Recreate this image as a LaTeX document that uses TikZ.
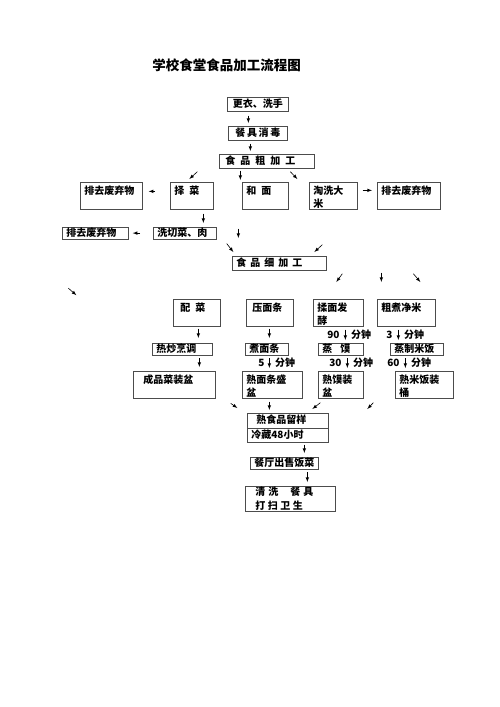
\documentclass[tikz,border=0pt]{standalone}
\usepackage{fontspec}
\setmainfont{Noto Sans CJK SC}
\usetikzlibrary{shapes.multipart}

\newcommand{\gap}[1][5pt]{\hspace{#1}}

\tikzstyle{base}=[rectangle,
                  draw=black!70,
                  line width=0.7pt,
                  anchor=north west,
                  inner xsep=4pt,
                  inner ysep=2pt,
                  align=left,
                  text height=8pt,
                  text depth=2pt,
                  font=\fontsize{10}{13}\selectfont\bfseries]
\tikzstyle{low}=[base, inner ysep=1.5pt, text depth=0.5pt]
\tikzstyle{tall}=[base, text height=10pt, text depth=13pt]
\tikzstyle{arrow}=[-latex, line width=0.6pt]
\tikzstyle{note}=[inner sep=1.5pt, font=\fontsize{10}{12}\selectfont\bfseries]

\begin{document}
\begin{tikzpicture}[x=1pt, y=-1pt]
    \useasboundingbox (0,0) rectangle (500,707);

    \node at (226.5, 65) (title) [font=\fontsize{13.5}{16}\selectfont\bfseries] {学校食堂食品加工流程图};

    \node at (227,  97) (dress)      [base, text width=53pt, align=center] {更衣、洗手};
    \node at (228, 126) (disinfect)  [base, text width=51pt, align=center] {餐\,具\,消\,毒};
    \node at (219, 154) (rough)      [base, text width=87pt] {\hspace*{2pt}食\gap 品\gap 粗\gap 加\gap 工};

    \node at ( 80, 182) (waste_a)    [tall, text width=54pt] {排去废弃物};
    \node at (170, 182) (pick)       [tall, text width=35pt] {择\gap 菜};
    \node at (242, 182) (dough)      [tall, text width=38pt] {和\gap 面};
    \node at (309, 182) (rice)       [tall, text width=40pt] {淘洗大\\米};
    \node at (377, 182) (waste_b)    [tall, text width=55pt] {排去废弃物};

    \node at ( 62, 227) (waste_c)    [low, text width=58pt] {排去废弃物};
    \node at (153, 227) (cut)        [low, text width=55pt] {洗切菜、肉};

    \node at (232, 256) (fine)       [base, text width=86pt] {食\gap[4pt]品\gap[4pt]细\gap[4pt]加\gap[4pt]工};

    \node at (173, 299) (dish)       [tall, text width=39pt] {\hspace*{3pt}配\gap 菜};
    \node at (246, 299) (press)      [tall, text width=39pt] {\hspace*{2pt}压面条};
    \node at (313, 299) (knead)      [tall, text width=42pt] {揉面发\\酵};
    \node at (377, 299) (boil)       [tall, text width=50pt] {粗煮净米};

    \node at (152, 343) (fry)        [low, text width=52pt] {热炒烹调};
    \node at (245, 343) (noodle)     [low, text width=35pt] {煮面条};
    \node at (318, 343) (steam)      [low, text width=37pt] {蒸\gap[8pt]馍};
    \node at (390, 343) (cook)       [low, text width=45pt] {蒸制米饭};

    \node at (133, 371) (served)     [tall, text width=74pt] {\hspace*{6pt}成品菜装盆};
    \node at (242, 371) (noodlebowl) [tall, text width=52pt] {熟面条盛\\盆};
    \node at (318, 371) (bunbowl)    [tall, text width=37pt] {熟馍装\\盆};
    \node at (395, 371) (ricebucket) [tall, text width=50pt] {熟米饭装\\桶};

    \node at (247, 413) (sample)     [base, rectangle split, rectangle split parts=2, text width=73pt]
                                     {\hspace*{5pt}熟食品留样 \nodepart{two} 冷藏48小时};
    \node at (250, 457) (sell)       [low, text width=60pt] {餐厅出售饭菜};
    \node at (245, 486) (clean)      [base, inner ysep=1pt, text depth=15pt, text width=82pt,
                                      font=\fontsize{10}{14}\selectfont\bfseries]
                                     {\hspace*{6pt}清\gap[3pt]洗\gap[12pt]餐\gap[3pt]具\\
                                      \hspace*{6pt}打\gap[2.5pt]扫\gap[2.5pt]卫\gap[2.5pt]生};

    \draw[arrow, shorten <=4pt, shorten >=3pt] ([xshift=-9.5pt]dress.south) -- ([xshift=-9.5pt]dress.south |- disinfect.north);
    \draw[arrow, shorten <=3pt, shorten >=3pt] ([xshift=-7.5pt]disinfect.south) -- ([xshift=-7.5pt]disinfect.south |- rough.north);
    \draw[arrow] ([xshift=-69.5pt,yshift=-3pt]rough.south) -- ([xshift=-2.5pt,yshift=3pt]pick.north);
    \draw[arrow, shorten <=2pt, shorten >=2pt] ([xshift=-26.5pt]rough.south) -- ([xshift=-26.5pt]rough.south |- dough.north);
    \draw[arrow] ([xshift=23.5pt,yshift=-3pt]rough.south) -- ([xshift=-36pt,yshift=3pt]rice.north);
    \draw[arrow] ([xshift=-15pt,yshift=4.5pt]pick.west) -- ([xshift=6pt,yshift=4.5pt]waste_a.east);
    \draw[arrow] ([xshift=5pt,yshift=5.5pt]rice.east) -- ([xshift=-5pt,yshift=5.5pt]waste_b.west);
    \draw[arrow, shorten <=4pt, shorten >=4pt] ([xshift=11.5pt]pick.south) -- ([xshift=11.5pt]pick.south |- cut.north);
    \draw[arrow] ([xshift=-13pt]cut.west) -- ([xshift=4pt]waste_c.east);
    \draw[arrow] ([xshift=-27pt,yshift=-19pt]dough.south) -- ([xshift=-41pt,yshift=18pt]fine.north);
    \draw[arrow] ([xshift=10pt,yshift=-10.5pt]cut.east) -- ([xshift=-46pt,yshift=4pt]fine.north);
    \draw[arrow] ([xshift=-11pt,yshift=-35pt]rice.south) -- ([xshift=35pt,yshift=4pt]fine.north);
    \draw[arrow] ([xshift=63pt,yshift=-3pt]fine.south) -- ([xshift=-2pt,yshift=17pt]knead.north);
    \draw[arrow] ([xshift=102pt,yshift=-2pt]fine.south) -- ([xshift=-25pt,yshift=17pt]boil.north);
    \draw[arrow] ([xshift=134pt,yshift=-3pt]fine.south) -- ([xshift=14pt,yshift=17pt]boil.north);
    \draw[arrow] ([xshift=-27pt,yshift=-49pt]waste_c.south) -- ([xshift=-19pt,yshift=-56pt]waste_c.south);

    \draw[arrow, shorten <=2pt, shorten >=5pt] ([xshift=1.5pt]dish.south) -- ([xshift=1.5pt]dish.south |- fry.north);
    \draw[arrow, shorten <=2pt, shorten >=5pt] ([xshift=-0.5pt]press.south) -- ([xshift=-0.5pt]press.south |- noodle.north);
    \draw[arrow, shorten <=3pt, shorten >=3pt] ([xshift=7pt]knead.south) -- ([xshift=7pt]knead.south |- steam.north)
        node[note, midway, left=4pt] {90} node[note, midway, right=4pt] {分钟};
    \draw[arrow, shorten <=3pt, shorten >=3pt] ([xshift=-8pt]boil.south) -- ([xshift=-8pt]boil.south |- cook.north)
        node[note, midway, left=4pt] {3} node[note, midway, right=4pt] {分钟};

    \draw[arrow, shorten <=3pt, shorten >=4pt] ([xshift=17pt]fry.south) -- ([xshift=17pt]fry.south |- served.north);
    \draw[arrow, shorten <=3pt, shorten >=3pt] ([xshift=2.5pt]noodle.south) -- ([xshift=2.5pt]noodle.south |- noodlebowl.north)
        node[note, midway, left=3pt] {5} node[note, midway, right=4pt] {分钟};
    \draw[arrow, shorten <=3pt, shorten >=3pt] ([xshift=6.5pt]steam.south) -- ([xshift=6.5pt]steam.south |- bunbowl.north)
        node[note, midway, left=4pt] {30} node[note, midway, right=4pt] {分钟};
    \draw[arrow, shorten <=3pt, shorten >=3pt] ([xshift=-11.5pt]cook.south) -- ([xshift=-11.5pt]cook.south |- ricebucket.north)
        node[note, midway, left=4pt] {60} node[note, midway, right=4pt] {分钟};

    \draw[arrow] ([xshift=15pt,yshift=-18.5pt]served.east) -- ([xshift=-50.5pt,yshift=5pt]sample.north);
    \draw[arrow, shorten <=3pt, shorten >=3pt] ([xshift=-3pt]noodlebowl.south) -- ([xshift=-3pt]noodlebowl.south |- sample.north);
    \draw[arrow] ([xshift=-20.5pt,yshift=-4pt]bunbowl.south) -- ([xshift=24.5pt,yshift=4pt]sample.north);
    \draw[arrow] ([xshift=-51pt,yshift=-4pt]ricebucket.south) -- ([xshift=79.5pt,yshift=4pt]sample.north);

    \draw[arrow, shorten <=2pt, shorten >=4pt] ([xshift=16.5pt]sample.south) -- ([xshift=16.5pt]sample.south |- sell.north);
    \draw[arrow, shorten <=3pt, shorten >=4pt] ([xshift=23pt]sell.south) -- ([xshift=23pt]sell.south |- clean.north);
\end{tikzpicture}
\end{document}
